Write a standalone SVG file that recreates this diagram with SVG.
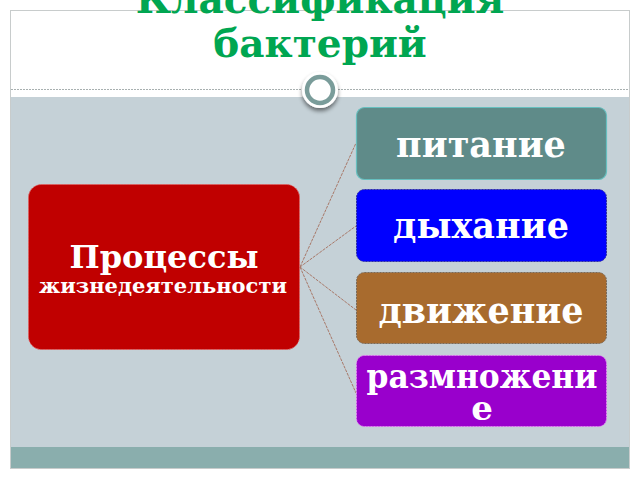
<svg xmlns="http://www.w3.org/2000/svg" width="640" height="480" viewBox="0 0 640 480">
<defs>
<style>
.t{font-family:"DejaVu Serif","Liberation Serif",serif;font-weight:bold;fill:#fff;text-anchor:middle}
.node{stroke-width:1;stroke-dasharray:2 1}
.conn{stroke:#A87868;stroke-width:1;stroke-dasharray:3 1;fill:none}
</style>
<filter id="sh" x="-50%" y="-50%" width="200%" height="200%">
<feGaussianBlur in="SourceAlpha" stdDeviation="2"/>
<feOffset dy="3"/>
<feComponentTransfer><feFuncA type="linear" slope="0.5"/></feComponentTransfer>
<feMerge><feMergeNode/><feMergeNode in="SourceGraphic"/></feMerge>
</filter>
</defs>
<rect width="640" height="480" fill="#fff"/>
<g id="slide">
<rect x="10.5" y="10.5" width="619" height="458" fill="#fff" stroke="#C8CCCC"/>
<rect x="11" y="97" width="618" height="350" fill="#C5D1D7"/>
<rect x="11" y="447" width="618" height="21" fill="#8AAEAD"/>
<line x1="11" y1="89.5" x2="629" y2="89.5" stroke="#A8B0B0" stroke-dasharray="2 1"/>
<circle cx="320" cy="90" r="18" fill="#fff" filter="url(#sh)"/>
<circle cx="320" cy="90" r="13" fill="#fff" stroke="#7A9C9A" stroke-width="4.5"/>
</g>
<g id="title">
<text x="320" y="13" font-family="DejaVu Serif, Liberation Serif, serif" font-weight="bold" font-size="39" fill="#00A651" text-anchor="middle">Классификация</text>
<text x="320" y="57" font-family="DejaVu Serif, Liberation Serif, serif" font-weight="bold" font-size="39" fill="#00A651" text-anchor="middle">бактерий</text>
</g>
<g id="connectors">
<line class="conn" x1="300" y1="267" x2="356" y2="143"/>
<line class="conn" x1="300" y1="267" x2="356" y2="226"/>
<line class="conn" x1="300" y1="267" x2="356" y2="310"/>
<line class="conn" x1="300" y1="267" x2="356" y2="393"/>
</g>
<g id="processes">
<rect class="node" x="28.5" y="184.5" width="271" height="165" rx="13" fill="#C00000" stroke="#E06060"/>
<text class="t" x="164" y="268" font-size="32">Процессы</text>
<text class="t" x="163" y="293" font-size="21">жизнедеятельности</text>
</g>
<g id="pitanie">
<rect x="356.5" y="107.5" width="250" height="72" rx="8" fill="#5F8B89" stroke="#66BFBF" stroke-width="1.2"/>
<text class="t" x="481" y="157" font-size="35">питание</text>
</g>
<g id="dyhanie">
<rect class="node" x="356.5" y="189.5" width="250" height="72" rx="8" fill="#0000FF" stroke="#3030A0"/>
<text class="t" x="481" y="238" font-size="35">дыхание</text>
</g>
<g id="dvizhenie">
<rect class="node" x="356.5" y="272.5" width="250" height="71" rx="8" fill="#A86B2E" stroke="#7A6A5A"/>
<text class="t" x="481" y="323" font-size="35">движение</text>
</g>
<g id="razmnozhenie">
<rect class="node" x="356.5" y="355.5" width="250" height="71" rx="8" fill="#9900CC" stroke="#E080F0"/>
<text class="t" x="482" y="388" font-size="34" textLength="231" lengthAdjust="spacingAndGlyphs">размножени</text>
<text class="t" x="482" y="420" font-size="34">е</text>
</g>
</svg>
